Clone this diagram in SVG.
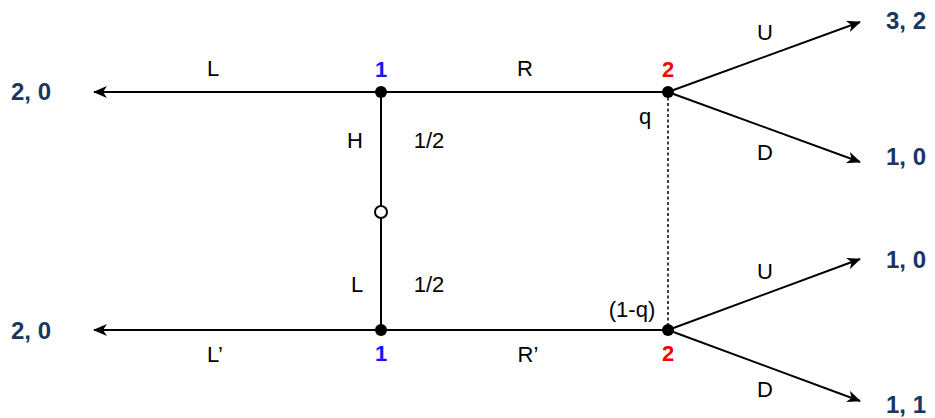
<svg xmlns="http://www.w3.org/2000/svg" width="935" height="418" viewBox="0 0 935 418">
<defs>
<marker id="arr" viewBox="0 0 14 12" refX="13" refY="6" markerWidth="14" markerHeight="12" markerUnits="userSpaceOnUse" orient="auto">
<path d="M0,0 L14,6 L0,12 L4,6 Z" fill="#000"/>
</marker>
<style>
.e{stroke:#000;stroke-width:2;fill:none}
.a{marker-end:url(#arr)}
.t{font-family:"Liberation Sans",Arial,sans-serif;font-size:22px;fill:#000;text-anchor:middle}
.p{font-family:"Liberation Sans",Arial,sans-serif;font-size:24px;font-weight:bold;fill:#17375e}
.b{font-family:"Liberation Sans",Arial,sans-serif;font-size:22px;font-weight:bold;fill:#1414ff;text-anchor:middle}
.r{font-family:"Liberation Sans",Arial,sans-serif;font-size:22px;font-weight:bold;fill:#ff0000;text-anchor:middle}
</style>
</defs>
<rect width="935" height="418" fill="#fff"/>
<g id="connectors">
<line class="e a" x1="381" y1="92" x2="94" y2="92"/>
<line class="e" x1="381" y1="92" x2="668" y2="92"/>
<line class="e" x1="381" y1="92" x2="381" y2="206"/>
<line class="e" x1="381" y1="218" x2="381" y2="330"/>
<line class="e a" x1="381" y1="330" x2="94" y2="330"/>
<line class="e" x1="381" y1="330" x2="668" y2="330"/>
<line x1="668" y1="92" x2="668" y2="330" stroke="#000" stroke-width="1.5" stroke-dasharray="3,2.5"/>
<line class="e a" x1="668" y1="92" x2="860" y2="22"/>
<line class="e a" x1="668" y1="92" x2="860" y2="162"/>
<line class="e a" x1="668" y1="330" x2="860" y2="259"/>
<line class="e a" x1="668" y1="330" x2="860" y2="401"/>
<text class="t" x="213" y="76">L</text>
<text class="t" x="525" y="76">R</text>
<text class="t" x="765" y="40">U</text>
<text class="t" x="765" y="160">D</text>
<text class="t" x="355" y="148">H</text>
<text class="t" x="429" y="148">1/2</text>
<text class="t" x="357" y="292">L</text>
<text class="t" x="429" y="292">1/2</text>
<text class="t" x="215" y="362">L’</text>
<text class="t" x="528" y="362">R’</text>
<text class="t" x="765" y="279">U</text>
<text class="t" x="765" y="397">D</text>
</g>
<g id="n1top">
<circle cx="381" cy="92" r="6" fill="#000"/>
<text class="b" x="381" y="77">1</text>
</g>
<g id="n2top">
<circle cx="668" cy="92" r="6" fill="#000"/>
<text class="r" x="668" y="77">2</text>
<text class="t" x="645" y="124">q</text>
</g>
<g id="chance">
<circle cx="381" cy="212" r="6" fill="#fff" stroke="#000" stroke-width="2"/>
</g>
<g id="n1bot">
<circle cx="381" cy="330" r="6" fill="#000"/>
<text class="b" x="381" y="361">1</text>
</g>
<g id="n2bot">
<circle cx="668" cy="330" r="6" fill="#000"/>
<text class="r" x="668" y="361">2</text>
<text class="t" x="632" y="317">(1-q)</text>
</g>
<g id="payoffs">
<text class="p" x="11" y="100">2, 0</text>
<text class="p" x="11" y="339">2, 0</text>
<text class="p" x="886" y="29">3, 2</text>
<text class="p" x="886" y="165">1, 0</text>
<text class="p" x="886" y="268">1, 0</text>
<text class="p" x="886" y="413">1, 1</text>
</g>
</svg>
